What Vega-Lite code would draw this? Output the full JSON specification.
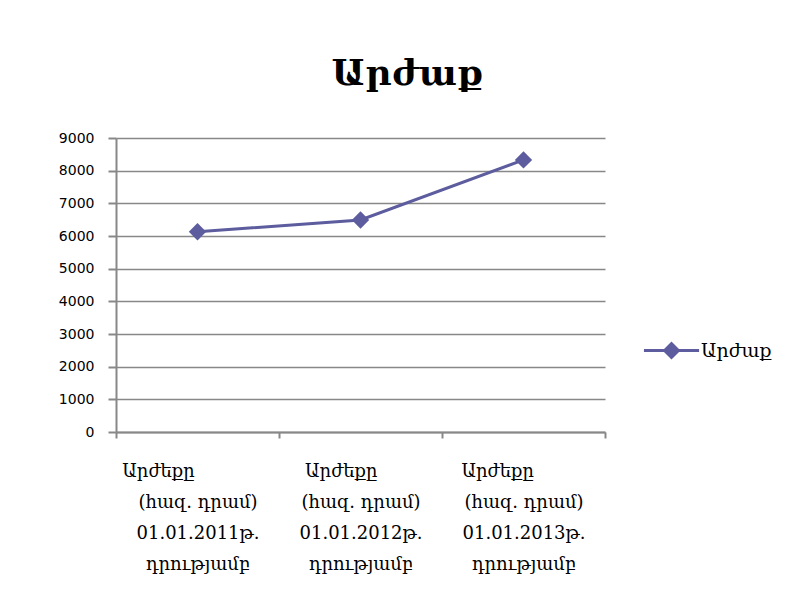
{
  "$schema": "https://vega.github.io/schema/vega-lite/v6.json",
  "autosize": "none",
  "width": 489,
  "height": 294,
  "padding": {"left": 116, "top": 138, "right": 182, "bottom": 176},
  "background": "white",
  "title": {
    "text": "Արժաք",
    "font": "DejaVu Serif",
    "fontSize": 36,
    "fontWeight": "bold",
    "color": "black",
    "anchor": "middle",
    "dx": 47,
    "offset": 38
  },
  "data": {
    "values": [
      {"cat": "Արժեքը\u2800\u2800\u2800\u2800\u2800\u2800|(հազ. դրամ)|01.01.2011թ.|դրությամբ", "value": 6130, "series": "Արժաք"},
      {"cat": "Արժեքը\u2800\u2800\u2800|(հազ. դրամ)|01.01.2012թ.|դրությամբ", "value": 6490, "series": "Արժաք"},
      {"cat": "Արժեքը\u2800\u2800\u2800\u2800|(հազ. դրամ)|01.01.2013թ.|դրությամբ", "value": 8330, "series": "Արժաք"}
    ]
  },
  "mark": {"type": "line", "strokeWidth": 3, "point": {"shape": "diamond", "size": 300, "filled": true, "opacity": 1}},
  "encoding": {
    "x": {
      "field": "cat",
      "type": "nominal",
      "sort": null,
      "scale": {"paddingInner": 0, "paddingOuter": 0},
      "axis": {
        "title": null,
        "labelAngle": 0,
        "labelExpr": "split(datum.label, '|')",
        "labelFont": "DejaVu Serif",
        "labelFontSize": 18,
        "labelColor": "black",
        "labelLineHeight": 31,
        "labelBaseline": "top",
        "labelPadding": 24,
        "labelAlign": "center",
        "tickBand": "extent",
        "tickSize": 6,
        "tickColor": "#888888",
        "domainColor": "#888888",
        "domainWidth": 2,
        "tickWidth": 2,
        "grid": false
      }
    },
    "y": {
      "field": "value",
      "type": "quantitative",
      "scale": {"domain": [0, 9000], "nice": false},
      "axis": {
        "title": null,
        "values": [0, 1000, 2000, 3000, 4000, 5000, 6000, 7000, 8000, 9000],
        "format": "d",
        "labelFont": "DejaVu Sans",
        "labelFontSize": 14,
        "labelColor": "black",
        "labelPadding": 14,
        "tickSize": 8,
        "tickColor": "#888888",
        "tickWidth": 2,
        "domainColor": "#888888",
        "domainWidth": 2,
        "grid": true,
        "gridColor": "#888888",
        "gridWidth": 1.5
      }
    },
    "color": {
      "field": "series",
      "type": "nominal",
      "scale": {"range": ["#5C5C9E"]},
      "legend": {
        "title": null,
        "orient": "none",
        "legendX": 540,
        "legendY": 197,
        "labelFont": "DejaVu Serif",
        "labelFontSize": 19,
        "labelColor": "black",
        "labelOffset": 14,
        "symbolType": "M-2,0L-0.5,0M-0.5,0L0,-0.5L0.5,0L0,0.5ZM0.5,0L2,0",
        "symbolSize": 760,
        "symbolStrokeWidth": 3,
        "symbolStrokeColor": "#5C5C9E",
        "symbolFillColor": "#5C5C9E",
        "padding": 0
      }
    }
  },
  "config": {"view": {"stroke": null}}
}
